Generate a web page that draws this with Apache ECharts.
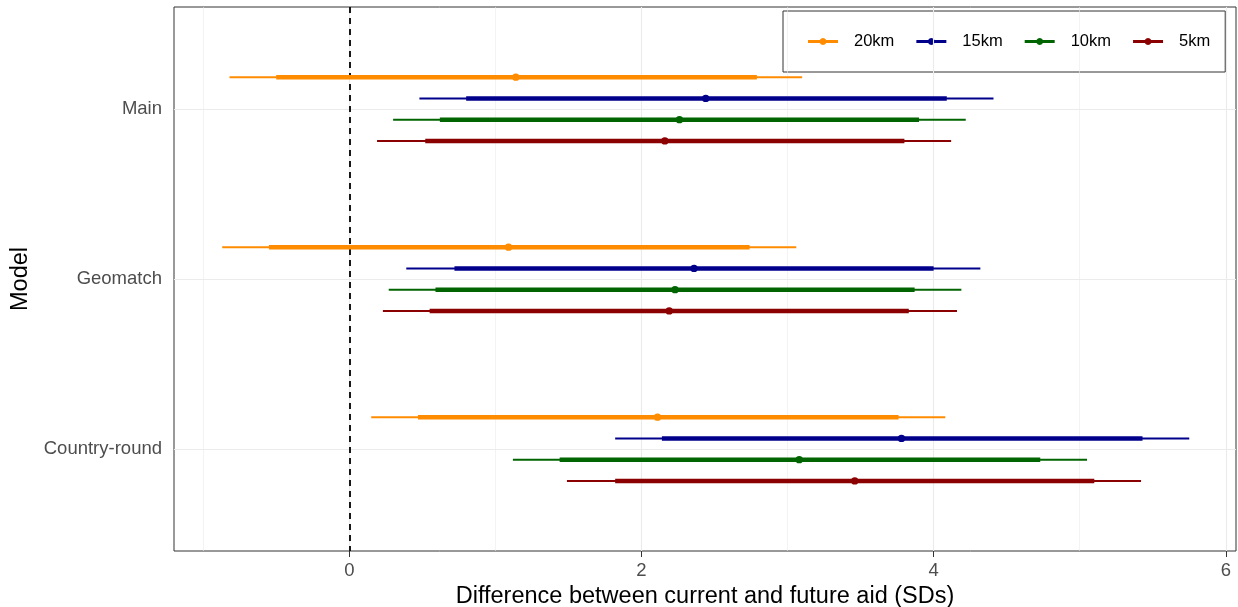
<!DOCTYPE html>
<html>
<head>
<meta charset="utf-8">
<script src="https://cdn.jsdelivr.net/npm/echarts@6/dist/echarts.min.js"></script>
<style>
html,body{margin:0;padding:0;background:#fff;}
#chart{width:1238px;height:607px;}
</style>
</head>
<body>
<div id="chart"></div>
<script>
// Categories (top to bottom) and distance groups (top to bottom within each category)
const categories = ['Main', 'Geomatch', 'Country-round'];
const distances = ['20km', '15km', '10km', '5km'];
const colors = ['#FF8C00', '#00008B', '#006400', '#8B0000'];
// Each row: [lower95, lower80, estimate, upper80, upper95] for Main, Geomatch, Country-round
const km20 = [[-0.82, -0.50, 1.14, 2.79, 3.10], [-0.87, -0.55, 1.09, 2.74, 3.06], [0.15, 0.47, 2.11, 3.76, 4.08]];
const km15 = [[0.48, 0.80, 2.44, 4.09, 4.41], [0.39, 0.72, 2.36, 4.00, 4.32], [1.82, 2.14, 3.78, 5.43, 5.75]];
const km10 = [[0.30, 0.62, 2.26, 3.90, 4.22], [0.27, 0.59, 2.23, 3.87, 4.19], [1.12, 1.44, 3.08, 4.73, 5.05]];
const km5  = [[0.19, 0.52, 2.16, 3.80, 4.12], [0.23, 0.55, 2.19, 3.83, 4.16], [1.49, 1.82, 3.46, 5.10, 5.42]];
const xTicks = [0, 2, 4, 6];
const xMinorGrid = [-1, 1, 3, 5];
const groups = [km20, km15, km10, km5];

const FONT = 'Liberation Sans, Arial, sans-serif';
const dodge = 0.5;

function renderItem(params, api) {
  const y = api.value(5);
  const a = api.coord([api.value(0), y]);
  const b = api.coord([api.value(1), y]);
  const c = api.coord([api.value(2), y]);
  const d = api.coord([api.value(3), y]);
  const e = api.coord([api.value(4), y]);
  const col = api.visual('color');
  return {
    type: 'group',
    children: [
      {type: 'line', shape: {x1: a[0], y1: a[1], x2: e[0], y2: e[1]}, style: {stroke: col, lineWidth: 2}},
      {type: 'line', shape: {x1: b[0], y1: b[1], x2: d[0], y2: d[1]}, style: {stroke: col, lineWidth: 4.5}},
      {type: 'circle', shape: {cx: c[0], cy: c[1], r: 3.7}, style: {fill: col}}
    ]
  };
}

const series = groups.map((g, gi) => ({
  name: distances[gi],
  type: 'custom',
  renderItem: renderItem,
  itemStyle: {color: colors[gi]},
  encode: {x: [0, 1, 2, 3, 4], y: 5},
  z: 5,
  data: g.map((row, ci) => row.concat([ci + 1 + (gi - (distances.length - 1) / 2) * dodge / distances.length]))
}));

// grid lines + zero reference line
series.unshift({
  name: 'grid',
  type: 'line',
  data: [],
  silent: true,
  z: 1,
  markLine: {
    silent: true,
    symbol: ['none', 'none'],
    label: {show: false},
    emphasis: {disabled: true},
    data: [
      ...xMinorGrid.map(v => ({xAxis: v, lineStyle: {color: '#ebebeb', width: 0.6, type: 'solid'}})),
      ...xTicks.map(v => ({xAxis: v, lineStyle: {color: '#ebebeb', width: 1.1, type: 'solid'}})),
      ...categories.map((c, i) => ({yAxis: i + 1, lineStyle: {color: '#ebebeb', width: 1.1, type: 'solid'}}))
    ]
  }
});
series.push({
  name: 'zero',
  type: 'line',
  data: [],
  silent: true,
  z: 3,
  markLine: {
    silent: true,
    symbol: ['none', 'none'],
    label: {show: false},
    emphasis: {disabled: true},
    data: [{xAxis: 0, lineStyle: {color: '#000', width: 1.8, type: [6, 5]}}]
  }
});

const legendIcon = 'path://M0,3.5 L30,3.5 L30,6.5 L0,6.5 Z ' +
  'M18.5,5 L18.03,6.75 L16.75,8.03 L15,8.5 L13.25,8.03 L11.97,6.75 L11.5,5 L11.97,3.25 L13.25,1.97 L15,1.5 L16.75,1.97 L18.03,3.25 Z';

const chart = echarts.init(document.getElementById('chart'), null, {renderer: 'canvas'});
chart.setOption({
  animation: false,
  backgroundColor: '#fff',
  textStyle: {fontFamily: FONT},
  grid: {left: 174, right: 2, top: 7, bottom: 56, show: true, borderColor: '#333', borderWidth: 1, backgroundColor: '#fff', containLabel: false, outerBoundsMode: 'none'},
  legend: {
    data: distances.map(d => ({name: d, icon: legendIcon})),
    left: 783, top: 11,
    itemWidth: 30, itemHeight: 10, itemGap: 22,
    padding: [20, 15, 20, 25],
    backgroundColor: '#fff', borderColor: '#333', borderWidth: 1, borderRadius: 0,
    textStyle: {fontSize: 16.5, color: '#000', fontFamily: FONT, padding: [0, 0, 0, 11], lineHeight: 21},
    selectedMode: false
  },
  xAxis: {
    type: 'value',
    min: -1.2, max: 6.07,
    name: 'Difference between current and future aid (SDs)',
    nameLocation: 'middle', nameGap: 33,
    nameTextStyle: {fontSize: 23.5, color: '#000', fontFamily: FONT},
    axisLine: {show: false},
    axisTick: {show: true, customValues: xTicks, length: 6, lineStyle: {color: '#333', width: 1}},
    axisLabel: {customValues: xTicks, fontSize: 18.5, color: '#4d4d4d', margin: 10, fontFamily: FONT},
    splitLine: {show: false}
  },
  yAxis: {
    type: 'value',
    min: 0.4, max: 3.6, inverse: true,
    name: 'Model',
    nameLocation: 'middle', nameGap: 138, nameRotate: 90,
    nameTextStyle: {fontSize: 23.5, color: '#000', fontFamily: FONT},
    axisLine: {show: false},
    axisTick: {show: true, customValues: [1, 2, 3], length: 6, lineStyle: {color: '#333', width: 1}},
    axisLabel: {customValues: [1, 2, 3], formatter: v => categories[Math.round(v) - 1] || '', fontSize: 18.5, color: '#4d4d4d', margin: 12, fontFamily: FONT},
    splitLine: {show: false}
  },
  series: series
});
</script>
</body>
</html>
